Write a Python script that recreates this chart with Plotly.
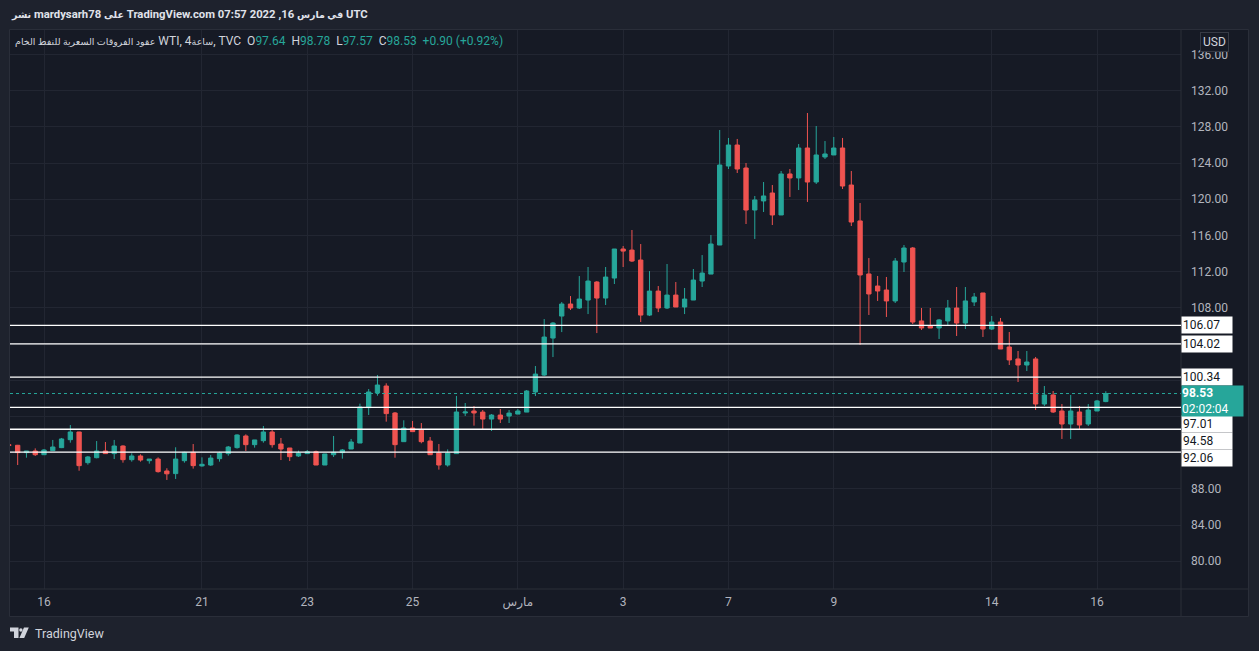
import plotly.graph_objects as go

# ---------------- data ----------------
# candle position index (0 = first 4h bar of Feb 16); 6 bars per trading day
bar_index = list(range(-4, 122))

opens = [92.86, 92.81, 92.00, 92.18, 91.77, 92.22, 92.55, 93.43, 94.28, 90.89,
         91.44, 92.18, 91.89, 92.73, 91.22, 91.63, 91.11, 91.29, 89.97, 89.68,
         91.11, 92.03, 90.53, 90.63, 91.33, 91.89, 92.55, 93.84, 92.88, 93.32,
         94.28, 92.95, 92.51, 91.63, 91.89, 92.10, 90.63, 91.77, 92.00, 92.40,
         93.06, 96.97, 98.59, 99.36, 96.38, 93.21, 94.72, 94.54, 93.28, 91.96,
         90.63, 91.89, 96.38, 96.60, 96.48, 95.71, 96.15, 96.04, 96.26, 96.48,
         98.70, 100.57, 104.66, 107.09, 108.42, 107.98, 108.86, 110.85, 109.08, 111.29,
         114.50, 114.38, 113.28, 107.20, 109.85, 107.98, 109.41, 108.09, 108.86, 110.96,
         111.73, 114.94, 123.67, 125.99, 123.45, 118.81, 119.81, 120.69, 118.26, 122.79,
         122.35, 125.66, 121.90, 124.67, 124.89, 125.66, 121.57, 117.60, 111.74, 110.41,
         109.97, 108.76, 113.06, 114.61, 106.55, 105.99, 105.77, 106.55, 107.98, 106.32,
         108.65, 109.64, 105.66, 106.43, 103.67, 102.35, 101.68, 102.35, 97.37, 98.37,
         96.60, 95.16, 96.49, 95.16, 96.60, 97.64]
highs = [92.92, 92.85, 92.18, 92.47, 92.40, 93.40, 93.62, 95.05, 94.30, 91.63,
         93.28, 93.17, 93.40, 92.81, 91.92, 91.81, 91.29, 91.48, 90.27, 92.59,
         92.10, 92.95, 91.48, 91.74, 92.10, 92.73, 94.02, 94.02, 93.40, 94.94,
         94.50, 93.62, 92.51, 92.22, 92.29, 92.22, 91.85, 93.84, 92.40, 93.51,
         97.41, 99.03, 100.58, 99.66, 96.49, 95.57, 95.50, 95.27, 93.73, 92.95,
         92.36, 98.26, 97.48, 97.15, 96.71, 96.26, 96.82, 96.71, 96.82, 98.92,
         101.57, 106.76, 106.43, 108.64, 109.30, 111.51, 112.51, 110.96, 112.51, 114.50,
         114.83, 116.60, 115.05, 112.06, 110.41, 112.84, 110.85, 110.19, 112.29, 113.83,
         116.04, 127.65, 126.77, 126.66, 124.00, 120.36, 121.90, 121.57, 123.12, 123.34,
         126.10, 129.53, 128.09, 126.43, 126.88, 126.77, 123.12, 119.58, 113.50, 111.52,
         111.41, 113.50, 114.94, 114.72, 107.98, 107.98, 106.77, 108.87, 110.30, 110.30,
         109.64, 109.64, 107.10, 106.88, 105.33, 103.23, 103.23, 102.57, 99.36, 98.81,
         97.37, 98.37, 97.15, 97.37, 97.82, 98.78]
lows = [92.72, 90.63, 91.44, 91.63, 91.74, 92.20, 92.50, 93.10, 90.00, 90.67,
        91.37, 91.85, 91.29, 90.89, 91.00, 91.00, 90.78, 89.79, 88.98, 89.09,
        90.89, 90.23, 90.45, 90.53, 91.00, 91.66, 92.44, 92.18, 92.55, 93.10,
        92.55, 91.18, 91.07, 91.52, 91.85, 90.63, 90.63, 91.52, 91.33, 92.40,
        93.06, 96.16, 98.29, 95.42, 91.44, 93.21, 94.32, 93.03, 91.77, 90.12,
        90.45, 91.89, 96.05, 94.98, 94.61, 94.39, 95.27, 95.27, 96.26, 96.48,
        98.25, 100.46, 102.56, 105.32, 107.76, 107.87, 107.31, 105.21, 108.31, 110.63,
        112.51, 113.06, 106.43, 107.09, 107.53, 107.87, 108.09, 107.31, 108.86, 110.30,
        111.73, 114.94, 123.34, 122.90, 117.26, 115.61, 118.59, 117.15, 118.26, 120.25,
        121.02, 119.70, 121.68, 124.45, 124.89, 121.13, 117.04, 103.90, 107.21, 108.76,
        106.99, 108.53, 111.96, 106.21, 105.55, 105.77, 104.56, 106.10, 104.89, 105.66,
        108.20, 104.78, 105.55, 103.45, 101.68, 99.80, 101.02, 96.71, 97.15, 96.38,
        93.51, 93.51, 94.50, 94.94, 96.60, 97.57]
closes = [92.81, 92.00, 92.18, 91.77, 92.29, 92.62, 93.51, 94.28, 90.56, 91.52,
          92.18, 91.89, 92.73, 91.22, 91.63, 91.18, 91.29, 89.90, 89.66, 91.29,
          92.03, 90.56, 90.71, 91.40, 91.96, 92.62, 93.95, 92.88, 93.40, 94.28,
          92.88, 92.40, 91.55, 91.96, 92.10, 90.63, 91.85, 92.03, 92.29, 93.17,
          97.04, 98.70, 99.47, 96.31, 92.88, 94.72, 94.32, 93.21, 91.77, 90.63,
          91.96, 96.49, 96.49, 96.38, 95.71, 96.15, 95.71, 96.37, 96.60, 98.81,
          100.68, 104.77, 106.32, 108.42, 107.98, 108.97, 110.96, 109.08, 111.40, 114.50,
          114.27, 113.17, 107.20, 109.85, 107.98, 109.41, 108.09, 108.97, 111.07, 111.84,
          115.05, 123.78, 125.99, 123.34, 118.81, 119.92, 120.36, 118.26, 122.79, 122.35,
          125.66, 121.90, 124.89, 125.00, 125.66, 121.46, 117.48, 111.63, 109.53, 109.86,
          108.76, 113.17, 114.61, 106.43, 105.77, 105.77, 106.66, 107.98, 106.32, 108.76,
          109.20, 105.66, 106.43, 103.45, 102.24, 101.68, 102.01, 97.37, 98.37, 96.49,
          95.16, 96.60, 95.05, 96.71, 97.71, 98.53]

# day labels on the time axis (bar index of the first bar of each labelled day)
day_tick_index = [0, 18, 30, 42, 54, 66, 78, 90, 108, 120]
day_tick_labels = ["16", "21", "23", "25", "مارس", "3", "7", "9", "14", "16"]

price_ticks = [80, 84, 88, 92, 96, 100, 104, 108, 112, 116, 120, 124, 128, 132, 136]
shown_price_ticks = [80, 84, 88, 108, 112, 116, 120, 124, 128, 132, 136]

level_prices = [106.07, 104.02, 100.34, 97.01, 94.58, 92.06]
# vertical push (px) of each level tag on the price scale, so the tags don't collide
level_tag_shift = [0, 0, 0, -17, -12, -6]

header_parts = [("ar", "نشر"), ("la", " mardysarh78 "), ("ar", "على"),
                ("la", " TradingView.com 07:57 2022 ,16 "), ("ar", "في مارس"), ("la", " UTC")]
symbol_parts = [("ar", "عقود الفروقات السعرية للنفط الخام"), ("la", " WTI, 4"),
                ("ar", "ساعة"), ("la", ", TVC")]
last_ohlc = {"O": 97.64, "H": 98.78, "L": 97.57, "C": 98.53}
change_text = "+0.90 (+0.92%)"
countdown = "02:02:04"

# ---------------- style ----------------
UP = "#26a69a"
DOWN = "#ef5350"
PANE = "#161a25"
OUTER = "#1e222d"
GRID = "#222632"
BORDER = "#2a2e39"
TXT = "#b2b5be"
FONT = "Roboto, 'DejaVu Sans', sans-serif"
AR_SIZE = 9.5

W, H = 1259, 651
L, R, T, B = 10, 1181, 30, 589


def px(x):
    return (x - L) / (R - L)


def py(y):
    return (B - y) / (B - T)


def mixed(parts):
    out = ""
    for kind, s in parts:
        if kind == "ar":
            out += f"<span style='font-size:{AR_SIZE}px'>{s}</span>"
        else:
            out += s
    return out


fig = go.Figure()
fig.add_trace(go.Candlestick(
    x=bar_index, open=opens, high=highs, low=lows, close=closes,
    increasing=dict(line=dict(color=UP, width=1), fillcolor=UP),
    decreasing=dict(line=dict(color=DOWN, width=1), fillcolor=DOWN),
    whiskerwidth=0, showlegend=False, hoverinfo="skip",
))

shapes = []
shapes.append(dict(type="rect", xref="paper", yref="paper", layer="below",
                   x0=px(9.5), x1=px(1248.5), y0=py(616.5), y1=py(29.5),
                   fillcolor=PANE, line=dict(color=BORDER, width=1)))
shapes.append(dict(type="line", xref="paper", yref="paper", layer="above",
                   x0=px(9.5), x1=px(1248.5), y0=py(589), y1=py(589),
                   line=dict(color=BORDER, width=1)))
shapes.append(dict(type="line", xref="paper", yref="paper", layer="above",
                   x0=px(1181), x1=px(1181), y0=py(616.5), y1=py(29.5),
                   line=dict(color=BORDER, width=1)))
for lv in level_prices:
    shapes.append(dict(type="line", xref="paper", yref="y", layer="above",
                       x0=0, x1=1, y0=lv, y1=lv,
                       line=dict(color="#ffffff", width=1.3)))
shapes.append(dict(type="line", xref="paper", yref="y", layer="above",
                   x0=0, x1=1, y0=closes[-1], y1=closes[-1],
                   line=dict(color=UP, width=1, dash="dot")))
LOGO = "#d1d4dc"
shapes.append(dict(type="path", xref="paper", yref="paper", layer="above",
                   path=(f"M {px(10)} {py(627.5)} L {px(18.5)} {py(627.5)} L {px(18.5)} {py(638)} "
                         f"L {px(14)} {py(638)} L {px(14)} {py(631.5)} L {px(10)} {py(631.5)} Z"),
                   fillcolor=LOGO, line=dict(width=0)))
shapes.append(dict(type="circle", xref="paper", yref="paper", layer="above",
                   x0=px(19.2), x1=px(22.6), y0=py(631.7), y1=py(628.3),
                   fillcolor=LOGO, line=dict(width=0)))
shapes.append(dict(type="path", xref="paper", yref="paper", layer="above",
                   path=(f"M {px(24)} {py(627.5)} L {px(28.8)} {py(627.5)} L {px(24.2)} {py(638)} "
                         f"L {px(19.4)} {py(638)} Z"),
                   fillcolor=LOGO, line=dict(width=0)))

annotations = []
annotations.append(dict(xref="paper", yref="paper", x=px(9), y=py(14),
                        xanchor="left", yanchor="middle", showarrow=False,
                        text=mixed(header_parts),
                        font=dict(family=FONT, size=11.3, color="#e0e3eb", weight="bold")))

legend = mixed(symbol_parts) + "  "
for k, v in last_ohlc.items():
    legend += f"{k}<span style='color:{UP}'>{v:.2f}</span>  "
legend += f"<span style='color:{UP}'>{change_text}</span>"
annotations.append(dict(xref="paper", yref="paper", x=px(13), y=py(41.5),
                        xanchor="left", yanchor="middle", showarrow=False,
                        text=legend,
                        font=dict(family=FONT, size=12, color="#d1d4dc")))

annotations.append(dict(xref="paper", yref="paper", x=px(32.5), y=py(633),
                        xanchor="left", yanchor="middle", showarrow=False,
                        text="TradingView",
                        font=dict(family=FONT, size=12.5, color="#d1d4dc")))

annotations.append(dict(xref="paper", yref="paper", x=px(1214.5), y=py(42.5),
                        xanchor="center", yanchor="middle", showarrow=False,
                        text="USD", bgcolor=PANE, bordercolor="#363a45",
                        borderwidth=1, borderpad=2,
                        font=dict(family=FONT, size=12, color="#d1d4dc")))

for lv, sh in zip(level_prices, level_tag_shift):
    annotations.append(dict(xref="paper", yref="y", x=1, y=lv, yshift=sh,
                            xanchor="left", yanchor="middle", showarrow=False,
                            text=f"{lv:.2f}", align="left", width=48,
                            bgcolor="#ffffff", borderpad=1,
                            font=dict(family=FONT, size=12, color="#131722")))

annotations.append(dict(xref="paper", yref="y", x=1, y=closes[-1],
                        xanchor="left", yanchor="top", yshift=8.5, showarrow=False,
                        text=f"<b>{closes[-1]:.2f}</b><br>{countdown}", align="left",
                        width=61, bgcolor=UP, borderpad=0,
                        font=dict(family=FONT, size=12, color="#ffffff")))

fig.update_layout(
    width=W, height=H,
    margin=dict(l=L, r=W - R, t=T, b=H - B, pad=0),
    paper_bgcolor=OUTER, plot_bgcolor=PANE,
    font=dict(family=FONT, size=12, color=TXT),
    shapes=shapes, annotations=annotations,
    showlegend=False, hovermode=False,
    xaxis=dict(range=[-3.875, 129.57], tickmode="array",
               tickvals=day_tick_index, ticktext=day_tick_labels,
               showgrid=True, gridcolor=GRID, gridwidth=1, zeroline=False,
               showline=False, ticks="", ticklabelstandoff=4,
               tickfont=dict(family=FONT, size=12, color=TXT),
               rangeslider=dict(visible=False), fixedrange=True),
    yaxis=dict(range=[76.93, 138.70], side="right", tickmode="array",
               tickvals=price_ticks,
               ticktext=[f"{v:.2f}" if v in shown_price_ticks else "" for v in price_ticks],
               showgrid=True, gridcolor=GRID, gridwidth=1, zeroline=False,
               showline=False, ticks="", ticklabelstandoff=9,
               tickfont=dict(family=FONT, size=12, color=TXT), fixedrange=True),
)

fig.write_html(
    "out.html",
    config={"displayModeBar": False, "staticPlot": True},
    post_script=(f"document.body.style.margin='0';"
                 f"document.body.style.background='{OUTER}';"
                 f"document.documentElement.style.background='{OUTER}';"),
)
